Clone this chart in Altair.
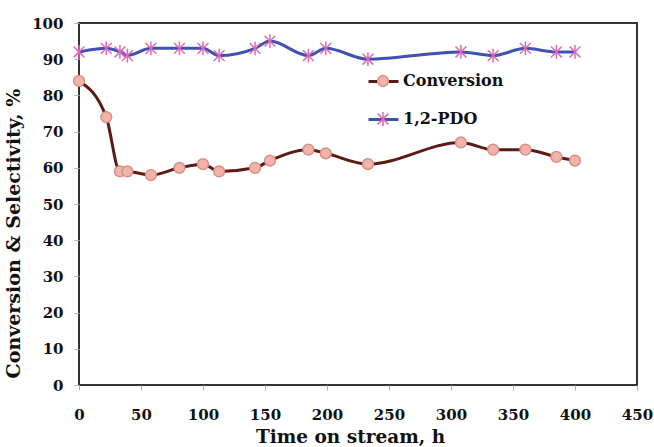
import altair as alt
import pandas as pd

# ---- data ----
time_h = [0, 22, 33, 39, 58, 81, 100, 113, 142, 154, 185, 199, 233, 308, 334, 360, 385, 400]
conversion = [84, 74, 59, 59, 58, 60, 61, 59, 60, 62, 65, 64, 61, 67, 65, 65, 63, 62]
pdo = [92, 93, 92, 91, 93, 93, 93, 91, 93, 95, 91, 93, 90, 92, 91, 93, 92, 92]
series_names = ["Conversion", "1,2-PDO"]
x_ticks = [0, 50, 100, 150, 200, 250, 300, 350, 400, 450]
y_ticks = [0, 10, 20, 30, 40, 50, 60, 70, 80, 90, 100]

line_colors = ["#5a1a16", "#3f52b4"]
marker_fill = ["#f2b3aa", "transparent"]
marker_stroke = ["#d98f87", "#e06ab4"]
circle_path = "M0.36,0A0.36,0.36,0,1,1,-0.36,0A0.36,0.36,0,1,1,0.36,0Z"
star_path = "M-0.36,-0.36L0.36,0.36M-0.36,0.36L0.36,-0.36M0,-0.46L0,0.46"

rows = []
for name, vals in zip(series_names, [conversion, pdo]):
    for t, v in zip(time_h, vals):
        rows.append({"time": t, "value": v, "series": name, "line": name + " line"})
df = pd.DataFrame(rows)

FONT = "DejaVu Serif"
LX, LY = 288, 42

x_enc = alt.X("time:Q", scale=alt.Scale(domain=[0, 450], nice=False),
              axis=alt.Axis(values=x_ticks, title="Time on stream, h",
                            titleX=271, titleY=57, titleBaseline="alphabetic",
                            titleFontSize=18.5,
                            labelPadding=17, labelFlush=False, labelOverlap=False))
y_enc = alt.Y("value:Q", scale=alt.Scale(domain=[0, 100], nice=False),
              axis=alt.Axis(values=y_ticks, tickCount=11, title="Conversion &  Selectivity, %",
                            titleX=-56, titleY=210, titleFontSize=19,
                            labelPadding=11, labelFlush=False, labelOverlap=False))

common_legend = dict(orient="none", legendX=LX, legendY=LY, title=None,
                     symbolSize=900, labelFont=FONT, labelFontSize=16,
                     labelFontWeight="bold", labelColor="#111", rowPadding=13,
                     padding=0, labelOffset=4)

lines = alt.Chart(df).mark_line(interpolate="monotone", strokeWidth=3).encode(
    x=x_enc, y=y_enc,
    color=alt.Color("line:N",
                    scale=alt.Scale(domain=[n + " line" for n in series_names], range=line_colors),
                    legend=alt.Legend(symbolType="stroke", symbolStrokeWidth=3,
                                      labelExpr="''", **common_legend)),
    order="time:Q",
)

marker_legend = alt.Legend(symbolStrokeWidth=1.5, **common_legend)
points = alt.Chart(df).mark_point(filled=True, size=900, opacity=1, strokeWidth=1.5).encode(
    x=x_enc, y=y_enc,
    shape=alt.Shape("series:N", scale=alt.Scale(domain=series_names, range=[circle_path, star_path]),
                    legend=marker_legend),
    fill=alt.Fill("series:N", scale=alt.Scale(domain=series_names, range=marker_fill),
                  legend=marker_legend),
    stroke=alt.Stroke("series:N", scale=alt.Scale(domain=series_names, range=marker_stroke),
                      legend=marker_legend),
)

chart = alt.layer(lines, points).resolve_scale(
    color="independent", shape="independent", fill="independent", stroke="independent"
).properties(
    width=558, height=362,
    autosize=alt.AutoSizeParams(type="none"),
    padding={"left": 79, "top": 23, "right": 17, "bottom": 62},
    background="white",
).configure_view(
    stroke="#333", strokeWidth=2
).configure_axis(
    grid=False, domain=False, tickColor="#b0b0b0", tickSize=5, tickWidth=1,
    labelOverlap=False,
    labelFont=FONT, labelFontSize=15, labelFontWeight="bold", labelColor="#111",
    titleFont=FONT, titleFontWeight="bold", titleColor="#111",
)

chart.save("out.html", embed_options={"renderer": "svg", "actions": False})
